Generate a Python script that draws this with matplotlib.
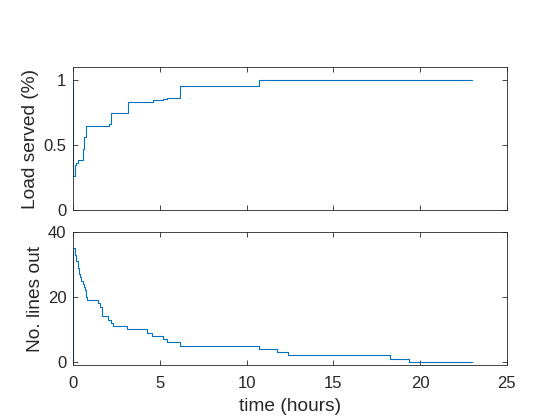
import matplotlib
matplotlib.use("Agg")
import matplotlib.pyplot as plt

# Load served (fraction) vs time (hours)
load_t = [0, 0, 0.12, 0.18, 0.26, 0.58, 0.64, 0.72, 2.05, 2.2, 3.15, 4.57, 5.2, 5.43, 6.16, 10.7, 23.0]
load_v = [1.0, 0.262, 0.347, 0.36, 0.385, 0.473, 0.565, 0.648, 0.663, 0.745, 0.83, 0.843, 0.853, 0.861, 0.954, 1.0, 1.0]

# Number of lines out vs time (hours)
lines_t = [0, 0, 0.12, 0.18, 0.25, 0.31, 0.36, 0.42, 0.54, 0.6, 0.65, 0.71, 0.77, 1.44, 1.56, 1.67,
           2.0, 2.17, 2.31, 3.12, 4.27, 4.56, 5.19, 5.42, 6.15, 10.7, 11.74, 12.41, 18.28, 19.34, 23.0]
lines_v = [0, 35, 33, 31, 29, 27, 26, 25, 24, 23, 22, 20, 19, 18, 17, 14,
           13, 12, 11, 10, 9, 8, 7, 6, 5, 4, 3, 2, 1, 0, 0]

xticks = [0, 5, 10, 15, 20, 25]
top_yticks = [0, 0.5, 1]
top_yticklabels = ["0", "0.5", "1"]
bot_yticks = [0, 20, 40]

plt.rcParams['font.family'] = ['Liberation Sans', 'DejaVu Sans']
dark = (0.15, 0.15, 0.15)
blue = (0, 0.447, 0.741)

fig = plt.figure(figsize=(5.6, 4.2), dpi=100)
W, H = 560, 420
ax1 = fig.add_axes([73.3 / W, 1 - 210 / H, (506.7 - 73.3) / W, (210 - 67) / H])
ax2 = fig.add_axes([73.3 / W, 1 - 365 / H, (506.7 - 73.3) / W, (365 - 232) / H])

ax1.step(load_t, load_v, where='post', color=blue, lw=0.8)
ax2.step(lines_t, lines_v, where='post', color=blue, lw=0.8)

for ax in (ax1, ax2):
    ax.set_xlim(0, 25)
    ax.set_xticks(xticks)
    ax.tick_params(direction='in', top=True, right=True, length=3.5, width=0.6,
                   colors=dark, labelsize=12, labelcolor=dark)
    ax.tick_params(axis='y', pad=5)
    ax.tick_params(axis='x', pad=8)
    for s in ax.spines.values():
        s.set_color(dark)
        s.set_linewidth(0.6)

ax1.set_ylim(0, 1.1)
ax1.set_yticks(top_yticks)
ax1.set_yticklabels(top_yticklabels)
ax1.set_xticklabels([])
ax1.set_ylabel("Load served (%)", fontsize=13.8, color=dark, labelpad=3)

ax2.set_ylim(-1, 40)
ax2.set_yticks(bot_yticks)
ax2.set_xticklabels([str(x) for x in xticks])
ax2.set_ylabel("No. lines out", fontsize=13.8, color=dark, labelpad=3)
ax2.set_xlabel("time (hours)", fontsize=13.8, color=dark, labelpad=5)

fig.savefig("out.png", dpi=100)
